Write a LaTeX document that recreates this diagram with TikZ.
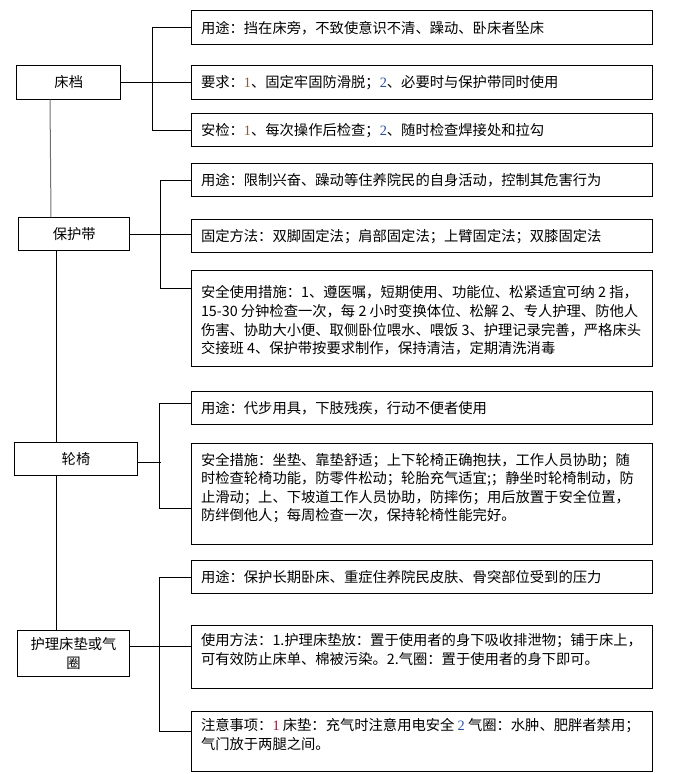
\documentclass[tikz,border=0pt]{standalone}
\usepackage{fontspec}
\setmainfont{Noto Sans CJK SC}
\newfontfamily\digfont{Liberation Serif}
\usetikzlibrary{calc}
\definecolor{dgone}{HTML}{9C5A1E}
\definecolor{dgtwo}{HTML}{2B4C9B}
\definecolor{dgred}{HTML}{8B1C3A}
\definecolor{linkgray}{HTML}{707070}
\newcommand\mystrut{\rule[-1.8pt]{0pt}{14.4pt}}
\newcommand\dg[2]{{\digfont\color{#1}#2}}
\newcommand\mylbox[3]{\parbox[c][#1pt][c]{#2pt}{\raggedright\leftskip=10pt\mystrut#3}}
\newcommand\mytbox[4]{\parbox[c][#1pt][t]{#2pt}{\raggedright\leftskip=10pt\rule{0pt}{#3pt}#4}}
\newcommand\myccbox[3]{\parbox[c][#1pt][c]{#2pt}{\centering\mystrut#3}}
\tikzset{
  infobox/.style={draw, line width=1pt, inner sep=0pt, anchor=north west,
    font=\fontsize{14.3pt}{18.6pt}\selectfont},
  catbox/.style={draw, line width=1pt, inner sep=0pt, anchor=north west,
    font=\fontsize{14.3pt}{19pt}\selectfont},
  wire/.style={line width=1pt, line cap=rect},
}
\begin{document}
\begin{tikzpicture}[x=1pt,y=-1pt]
\useasboundingbox (0,0) rectangle (674,774);
% category nodes
\node[catbox] (ca) at (16.3,65.3) {\myccbox{33.4}{104}{床档}};
\node[catbox] (pb) at (18.3,217.3) {\myccbox{33}{111}{保护带}};
\node[catbox] (lu) at (14.3,442.3) {\myccbox{33}{122.4}{轮椅}};
\node[catbox] (hl) at (17.3,630.3) {\myccbox{46}{111.4}{护理床垫或气\\\mystrut 圈}};
% group 1
\node[infobox] (c1b1) at (190.5,10.3) {\mylbox{34}{461}{用途：挡在床旁，不致使意识不清、躁动、卧床者坠床}};
\node[infobox] (c1b2) at (190.5,65.3) {\mylbox{33.4}{461}{要求：\dg{dgone}{1}、固定牢固防滑脱；\dg{dgtwo}{2}、必要时与保护带同时使用}};
\node[infobox] (c1b3) at (190.5,113.3) {\mylbox{33}{461}{安检：\dg{dgone}{1}、每次操作后检查；\dg{dgtwo}{2}、随时检查焊接处和拉勾}};
% group 2
\node[infobox] (c2b1) at (190.5,163.3) {\mylbox{33}{461}{用途：限制兴奋、躁动等住养院民的自身活动，控制其危害行为}};
\node[infobox] (c2b2) at (190.5,219.3) {\mylbox{32.4}{461}{固定方法：双脚固定法；肩部固定法；上臂固定法；双膝固定法}};
\node[infobox] (c2b3) at (190.5,270.3) {\mytbox{96}{461}{27}{安全使用措施：1、遵医嘱，短期使用、功能位、松紧适宜可纳 2 指，\\
15-30 分钟检查一次，每 2 小时变换体位、松解 2、专人护理、防他人\\
伤害、协助大小便、取侧卧位喂水、喂饭 3、护理记录完善，严格床头\\
交接班 4、保护带按要求制作，保持清洁，定期清洗消毒}};
% group 3
\node[infobox] (c3b1) at (190.5,390.7) {\mylbox{33.6}{461}{用途：代步用具，下肢残疾，行动不便者使用}};
\node[infobox] (c3b2) at (190.5,442.7) {\mytbox{101.6}{461}{21.9}{安全措施：坐垫、靠垫舒适；上下轮椅正确抱扶，工作人员协助；随\\
时检查轮椅功能，防零件松动；轮胎充气适宜;；静坐时轮椅制动，防\\
止滑动；上、下坡道工作人员协助，防摔伤；用后放置于安全位置，\\
防绊倒他人；每周检查一次，保持轮椅性能完好。}};
% group 4
\node[infobox] (c4b1) at (190.5,559.7) {\mylbox{33.6}{461}{用途：保护长期卧床、重症住养院民皮肤、骨突部位受到的压力}};
\node[infobox] (c4b2) at (190.5,625.3) {\mytbox{62.7}{461}{20}{使用方法：1.护理床垫放：置于使用者的身下吸收排泄物；铺于床上，\\
可有效防止床单、棉被污染。2.气圈：置于使用者的身下即可。}};
\node[infobox] (c4b3) at (190.5,710.7) {\mytbox{60}{461}{19.3}{注意事项：\dg{dgred}{1} 床垫：充气时注意用电安全 \dg{dgtwo}{2} 气圈：水肿、肥胖者禁用；\\
气门放于两腿之间。}};
% spine
\draw[line width=1pt, linkgray] ([xshift=33.7pt]ca.south west) -- ([xshift=32.7pt]pb.north west);
\draw[wire] (pb.south west) ++(38.4,0) coordinate (s1) -- (s1 |- lu.north);
\draw[wire] (lu.south west) ++(42.4,0) coordinate (s2) -- (s2 |- hl.north);
% group 1 connectors
\draw[wire] (ca.east) -- (ca.east -| c1b2.west);
\draw[wire] (c1b1.west) -- ++(-37.8,0) |- (c1b3.west);
% group 2 connectors
\draw[wire] (pb.east) -- (pb.east -| c2b2.west);
\draw[wire] (c2b1.west) -- ++(-30.5,0) |- ([yshift=-18pt]c2b3.north west);
% group 3 connectors
\coordinate (h3) at ([yshift=-3pt]lu.east);
\draw[wire] (h3) -- ++(23,0);
\draw[wire] ([yshift=-13pt]c3b1.north west) -- ++(-30.8,0) |- ([yshift=-66pt]c3b2.north west);
% group 4 connectors
\coordinate (h4) at ([yshift=7pt]hl.east);
\draw[wire] (h4) -- (h4 -| c4b2.west);
\draw[wire] (c4b1.west) -- ++(-30.8,0) |- ([yshift=-20.6pt]c4b3.north west);
\end{tikzpicture}
\end{document}
